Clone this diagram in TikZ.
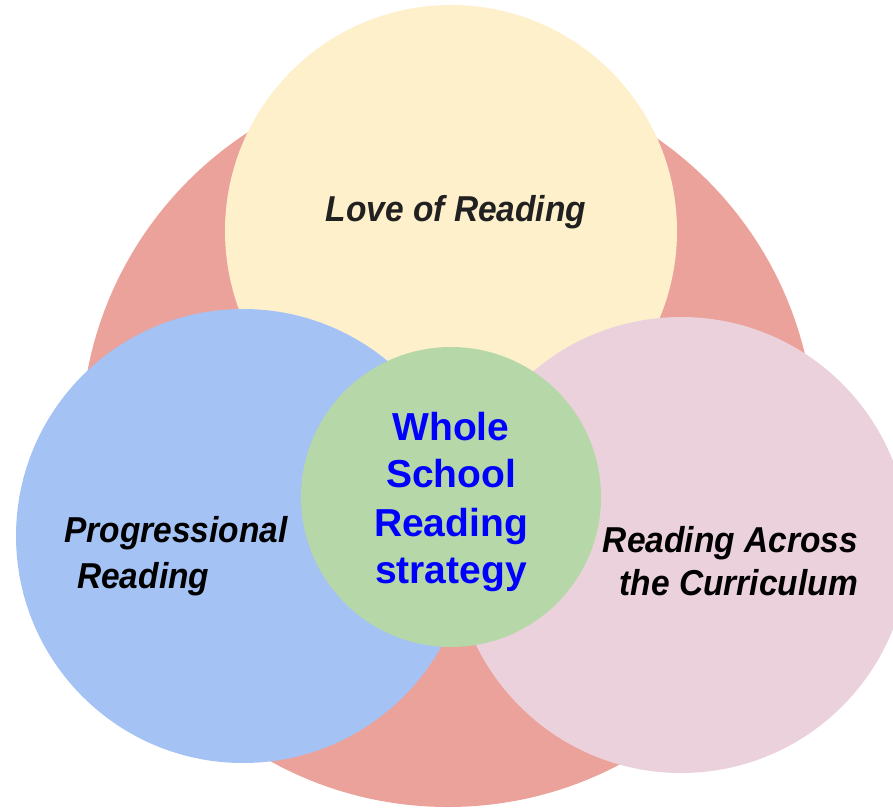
\documentclass[tikz,border=0pt]{standalone}
\usepackage{fontspec}
\setmainfont{Liberation Sans}
\newfontfamily\labfont[FakeStretch=0.93]{Liberation Sans}
\definecolor{salmon}{HTML}{EBA29A}
\definecolor{lyellow}{HTML}{FFF0CC}
\definecolor{lblue}{HTML}{A4C2F4}
\definecolor{lpink}{HTML}{EAD1DC}
\definecolor{lgreen}{HTML}{B6D7A8}
\definecolor{txtgray}{HTML}{212121}
\definecolor{txtblue}{HTML}{0000FF}
\begin{document}
\begin{tikzpicture}[x=1pt,y=-1pt,
  blob/.style={circle,inner sep=0pt,draw=none,minimum size=#1},
  lab/.style={inner sep=0pt,font=\labfont\fontsize{36pt}{45pt}\selectfont\bfseries\itshape,text=black},
  core/.style={inner sep=0pt,anchor=base,font=\fontsize{39pt}{47pt}\selectfont\bfseries,text=txtblue}]
\useasboundingbox (0,0) rectangle (893,810);
\node[blob=734pt,fill=salmon] (outer) at (448,440) {};
\node[blob=452pt,fill=lyellow] (love) at (451,231) {};
\node[blob=454pt,fill=lblue] (prog) at (243,536) {};
\node[blob=456pt,fill=lpink] (across) at (681,545) {};
\node[blob=300pt,fill=lgreen] (whole) at (451,497) {};
\node[lab,anchor=base,text=txtgray] (lovetxt) at (456,222) {Love of Reading};
\node[lab,anchor=base west] (progA) at (64,542) {Progressional};
\node[lab,anchor=base west] (progB) at (77,588) {Reading};
\node[lab,anchor=base east] (acrA) at (858,552) {Reading Across};
\node[lab,anchor=base east] (acrB) at (858,595) {the Curriculum};
\node[core] (w1) at (451,440) {Whole};
\node[core] (w2) at (451,487) {School};
\node[core] (w3) at (451,536) {Reading};
\node[core] (w4) at (451,583) {strategy};
\end{tikzpicture}
\end{document}
